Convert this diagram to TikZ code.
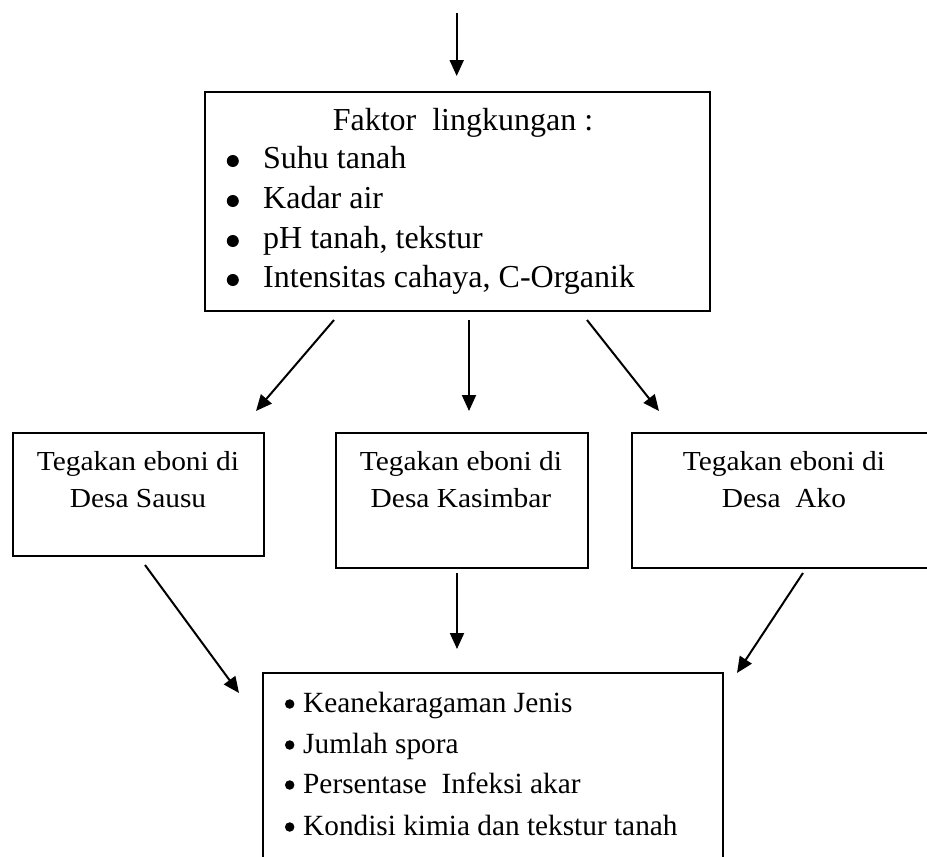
\documentclass[tikz,border=0pt]{standalone}
\usepackage{fontspec}
\setmainfont{Liberation Serif}
\newfontfamily\midfont[FakeStretch=1.07]{Liberation Serif}
\usetikzlibrary{arrows.meta}
\begin{document}
\begin{tikzpicture}[x=1pt,y=-1pt,
  box/.style={draw, line width=2pt, inner sep=0pt, anchor=north west},
  arr/.style={line width=2pt, -{Triangle[length=16pt,width=14pt]}},
  big/.style={font=\fontsize{32}{40}\selectfont, inner sep=0pt},
  low/.style={font=\fontsize{29.3}{40}\selectfont, inner sep=0pt},
  bigdot/.style={circle, fill, inner sep=0pt, minimum size=12pt},
  smalldot/.style={circle, fill, inner sep=0pt, minimum size=9.5pt},
  mid/.style={font=\midfont\fontsize{27.5}{38}\selectfont, inner sep=0pt}]
\useasboundingbox (0,0) rectangle (927,857);
\clip (0,0) rectangle (927,857);
% boxes
\node[box, minimum width=505pt, minimum height=219pt] (faktor) at (204,91) {};
\node[box, minimum width=251pt, minimum height=123pt] (sausu) at (12,432) {};
\node[box, minimum width=252pt, minimum height=135pt] (kasimbar) at (335,432) {};
\node[box, minimum width=306pt, minimum height=135pt] (ako) at (631,432) {};
\node[box, minimum width=460pt, minimum height=230pt] (hasil) at (262,672) {};
% top box text
\node[big, anchor=base] (t0) at (463,130) {Faktor\ \ lingkungan :};
\node[bigdot] (d1) at (232.8,161) {};
\node[bigdot] (d2) at (232.8,201) {};
\node[bigdot] (d3) at (232.8,241) {};
\node[bigdot] (d4) at (232.8,280) {};
\node[big, anchor=base west] (t1) at (263,168) {Suhu tanah};
\node[big, anchor=base west] (t2) at (263,208) {Kadar air};
\node[big, anchor=base west] (t3) at (263,248) {pH tanah, tekstur};
\node[big, anchor=base west] (t4) at (263,287) {Intensitas cahaya, C-Organik};
% middle box text
\node[mid, anchor=base] (s1) at (138,470.5) {Tegakan eboni di};
\node[mid, anchor=base] (s2) at (138,507) {Desa Sausu};
\node[mid, anchor=base] (k1) at (461,470.5) {Tegakan eboni di};
\node[mid, anchor=base] (k2) at (461,507) {Desa Kasimbar};
\node[mid, anchor=base] (a1) at (784,470.5) {Tegakan eboni di};
\node[mid, anchor=base] (a2) at (784,507) {Desa\ \ Ako};
% bottom box text
\node[smalldot] (e1) at (289.7,704) {};
\node[smalldot] (e2) at (289.7,745) {};
\node[smalldot] (e3) at (289.7,785) {};
\node[smalldot] (e4) at (289.7,827) {};
\node[low, anchor=base west] (h1) at (303,712) {Keanekaragaman Jenis};
\node[low, anchor=base west] (h2) at (303,753) {Jumlah spora};
\node[low, anchor=base west] (h3) at (303,793) {Persentase\ \ Infeksi akar};
\node[low, anchor=base west] (h4) at (303,835) {Kondisi kimia dan tekstur tanah};
% arrow end points
\coordinate (in0) at (456.7,13);
\coordinate (in1) at (456.7,76);
\coordinate (f1) at (334,320);
\coordinate (f2) at (469,320);
\coordinate (f3) at (587,320);
\coordinate (s0) at (256,411);
\coordinate (k0) at (469,411);
\coordinate (a0) at (659,411);
\coordinate (s3) at (145,565);
\coordinate (k3) at (457,573);
\coordinate (a3) at (803,573);
\coordinate (hs) at (239,693);
\coordinate (hk) at (457,649);
\coordinate (ha) at (737,673);
% arrows
\draw[arr] (in0) -- (in1);
\draw[arr] (f1) -- (s0);
\draw[arr] (f2) -- (k0);
\draw[arr] (f3) -- (a0);
\draw[arr] (s3) -- (hs);
\draw[arr] (k3) -- (hk);
\draw[arr] (a3) -- (ha);
\end{tikzpicture}
\end{document}
